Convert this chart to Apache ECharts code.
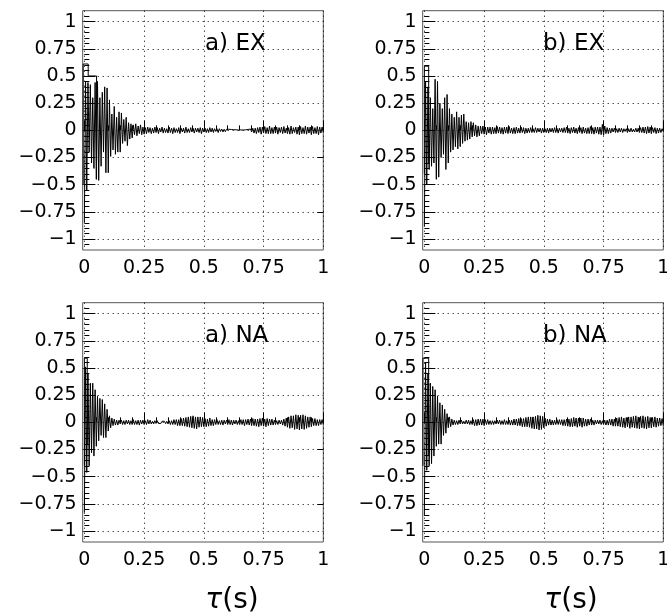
<!DOCTYPE html>
<html>
<head>
<meta charset="utf-8">
<script src="https://cdn.jsdelivr.net/npm/echarts@6/dist/echarts.min.js"></script>
<style>html,body{margin:0;padding:0;background:#fff;}#c{width:667px;height:613px;}</style>
</head>
<body>
<div id="c"></div>
<script>
// ---------------- data ----------------
const panelNames = ['a) EX', 'b) EX', 'a) NA', 'b) NA'];
const xTickValues = [0, 0.25, 0.5, 0.75, 1];
const yTickValues = [-1, -0.75, -0.5, -0.25, 0, 0.25, 0.5, 0.75, 1];
const xAxisTitle = 'τ(s)';
const tauStart = 0;      // s, first sample
const tauStep = 0.005;   // s, sample spacing

// correlation values, one sample every tauStep from tau = 0 to 1 s
const aEX = [
 -0.85, 0.45, -0.55, 0.44, -0.2, 0.42, -0.3, 0.3, -0.35, 0.44, -0.45, 0.45, -0.46, 0.3, -0.33, 0.35, -0.2, 0.4, -0.39, 0.39,
 -0.39, 0.28, -0.24, 0.15, -0.18, 0.22, -0.22, 0.12, -0.2, 0.17, -0.2, 0.16, -0.12, 0.1, -0.1, 0.12, -0.14, 0.07, -0.08, 0.06,
 -0.07, 0.05, -0.04, 0.06, -0.05, 0.04, -0.03, 0.05, -0.04, 0.03, -0.035, 0.025, -0.03, 0.03, -0.02, 0.025, -0.03, 0.02, -0.025, 0.03,
 -0.02, 0.025, -0.03, 0.02, -0.015, 0.03, -0.025, 0.02, -0.02, 0.015, -0.025, 0.03, -0.02, 0.02, -0.03, 0.025, -0.02, 0.015, -0.02, 0.025,
 -0.03, 0.02, -0.015, 0.02, -0.025, 0.03, -0.02, 0.015, -0.02, 0.025, -0.015, 0.02, -0.025, 0.02, -0.015, 0.02, -0.02, 0.025, -0.03, 0.02,
 -0.015, 0.02, -0.02, 0.015, -0.02, 0.025, -0.015, 0.02, -0.02, 0.015, -0.01, 0.015, -0.02, 0.015, -0.01, 0.012, -0.015, 0.01, -0.012, 0.01,
 -0.008, 0.01, -0.006, 0.008, -0.005, 0.006, -0.004, 0.005, -0.004, 0.003, -0.003, 0.004, -0.003, 0.003, -0.004, 0.005, -0.006, 0.008, -0.01, 0.012,
 -0.015, 0.02, -0.025, 0.02, -0.03, 0.025, -0.02, 0.03, -0.035, 0.03, -0.025, 0.035, -0.03, 0.025, -0.03, 0.04, -0.03, 0.025, -0.03, 0.03,
 -0.025, 0.03, -0.035, 0.025, -0.02, 0.03, -0.03, 0.035, -0.025, 0.02, -0.03, 0.025, -0.035, 0.04, -0.03, 0.025, -0.02, 0.03, -0.035, 0.03,
 -0.04, 0.035, -0.03, 0.025, -0.03, 0.04, -0.035, 0.03, -0.025, 0.03, -0.04, 0.035, -0.03, 0.025, -0.03, 0.035, -0.04, 0.03, -0.025, 0.03,
 -0.02
];
const bEX = [
 -0.88, 0.45, -0.5, 0.4, -0.36, 0.3, -0.33, 0.2, -0.3, 0.47, -0.45, 0.45, -0.43, 0.25, -0.25, 0.2, -0.22, 0.3, -0.36, 0.33,
 -0.3, 0.2, -0.2, 0.15, -0.18, 0.12, -0.15, 0.17, -0.17, 0.12, -0.15, 0.14, -0.12, 0.15, -0.1, 0.08, -0.09, 0.07, -0.08, 0.08,
 -0.06, 0.07, -0.05, 0.05, -0.06, 0.04, -0.05, 0.04, -0.03, 0.04, -0.035, 0.03, -0.04, 0.03, -0.025, 0.03, -0.035, 0.03, -0.03, 0.025,
 -0.03, 0.035, -0.025, 0.03, -0.03, 0.025, -0.035, 0.03, -0.025, 0.03, -0.03, 0.035, -0.025, 0.02, -0.03, 0.025, -0.03, 0.03, -0.025, 0.02,
 -0.025, 0.03, -0.02, 0.025, -0.03, 0.02, -0.025, 0.02, -0.02, 0.025, -0.02, 0.015, -0.02, 0.025, -0.02, 0.02, -0.015, 0.02, -0.025, 0.02,
 -0.02, 0.015, -0.02, 0.02, -0.025, 0.02, -0.015, 0.02, -0.02, 0.025, -0.02, 0.02, -0.025, 0.02, -0.015, 0.02, -0.02, 0.025, -0.02, 0.03,
 -0.025, 0.02, -0.03, 0.025, -0.02, 0.03, -0.025, 0.02, -0.03, 0.025, -0.02, 0.025, -0.03, 0.03, -0.025, 0.02, -0.03, 0.025, -0.03, 0.035,
 -0.03, 0.025, -0.035, 0.03, -0.025, 0.03, -0.035, 0.03, -0.04, 0.055, -0.045, 0.04, -0.03, 0.025, -0.03, 0.02, -0.025, 0.02, -0.015, 0.02,
 -0.02, 0.015, -0.02, 0.02, -0.015, 0.02, -0.02, 0.015, -0.01, 0.015, -0.02, 0.015, -0.015, 0.02, -0.015, 0.01, -0.015, 0.02, -0.015, 0.02,
 -0.02, 0.025, -0.02, 0.03, -0.025, 0.03, -0.03, 0.035, -0.025, 0.03, -0.03, 0.025, -0.02, 0.025, -0.03, 0.02, -0.025, 0.02, -0.02, 0.015,
 -0.01
];
const aNA = [
 -0.83, 0.51, -0.46, 0.45, -0.4, 0.36, -0.28, 0.36, -0.31, 0.3, -0.22, 0.24, -0.17, 0.22, -0.12, 0.21, -0.14, 0.17, -0.14, 0.12,
 -0.08, 0.06, -0.05, 0.04, -0.03, 0.03, -0.025, 0.02, -0.025, 0.02, -0.015, 0.02, -0.02, 0.015, -0.02, 0.02, -0.015, 0.02, -0.02, 0.015,
 -0.02, 0.025, -0.02, 0.015, -0.02, 0.02, -0.025, 0.02, -0.015, 0.02, -0.02, 0.015, -0.02, 0.025, -0.015, 0.02, -0.015, 0.01, -0.015, 0.015,
 -0.01, 0.015, -0.01, 0.008, -0.01, 0.01, -0.008, 0.01, -0.012, 0.01, -0.015, 0.015, -0.02, 0.015, -0.02, 0.025, -0.02, 0.025, -0.03, 0.025,
 -0.03, 0.035, -0.03, 0.04, -0.035, 0.045, -0.04, 0.05, -0.045, 0.055, -0.05, 0.06, -0.055, 0.05, -0.06, 0.05, -0.045, 0.05, -0.04, 0.045,
 -0.04, 0.035, -0.04, 0.03, -0.035, 0.04, -0.03, 0.025, -0.03, 0.025, -0.02, 0.025, -0.02, 0.015, -0.02, 0.02, -0.025, 0.02, -0.015, 0.02,
 -0.02, 0.025, -0.02, 0.02, -0.025, 0.02, -0.015, 0.02, -0.02, 0.015, -0.02, 0.025, -0.02, 0.025, -0.03, 0.025, -0.02, 0.03, -0.025, 0.03,
 -0.03, 0.035, -0.03, 0.03, -0.035, 0.03, -0.04, 0.035, -0.03, 0.04, -0.035, 0.03, -0.04, 0.035, -0.03, 0.03, -0.025, 0.03, -0.025, 0.02,
 -0.02, 0.015, -0.02, 0.02, -0.015, 0.02, -0.025, 0.03, -0.035, 0.04, -0.045, 0.05, -0.055, 0.06, -0.05, 0.06, -0.065, 0.07, -0.06, 0.065,
 -0.07, 0.065, -0.06, 0.07, -0.065, 0.06, -0.055, 0.05, -0.045, 0.05, -0.04, 0.035, -0.03, 0.035, -0.03, 0.025, -0.03, 0.025, -0.02, 0.025,
 -0.02
];
const bNA = [
 -0.86, 0.55, -0.44, 0.45, -0.4, 0.36, -0.38, 0.33, -0.31, 0.3, -0.22, 0.24, -0.2, 0.18, -0.2, 0.16, -0.12, 0.12, -0.1, 0.08,
 -0.05, 0.05, -0.04, 0.03, -0.025, 0.02, -0.02, 0.015, -0.02, 0.02, -0.015, 0.02, -0.015, 0.01, -0.015, 0.02, -0.015, 0.02, -0.02, 0.015,
 -0.02, 0.025, -0.03, 0.025, -0.03, 0.03, -0.025, 0.03, -0.025, 0.03, -0.03, 0.025, -0.02, 0.025, -0.02, 0.015, -0.02, 0.015, -0.02, 0.015,
 -0.015, 0.02, -0.015, 0.02, -0.02, 0.015, -0.02, 0.025, -0.02, 0.015, -0.02, 0.02, -0.025, 0.02, -0.025, 0.03, -0.025, 0.03, -0.03, 0.035,
 -0.03, 0.035, -0.04, 0.035, -0.04, 0.045, -0.04, 0.05, -0.045, 0.05, -0.055, 0.05, -0.06, 0.055, -0.06, 0.065, -0.07, 0.06, -0.065, 0.055,
 -0.05, 0.04, -0.035, 0.03, -0.025, 0.03, -0.025, 0.02, -0.025, 0.02, -0.02, 0.025, -0.02, 0.025, -0.02, 0.025, -0.03, 0.025, -0.03, 0.03,
 -0.035, 0.03, -0.04, 0.035, -0.04, 0.045, -0.035, 0.04, -0.045, 0.04, -0.035, 0.04, -0.045, 0.04, -0.035, 0.03, -0.035, 0.03, -0.025, 0.03,
 -0.025, 0.02, -0.025, 0.02, -0.015, 0.02, -0.015, 0.02, -0.02, 0.015, -0.02, 0.02, -0.025, 0.02, -0.025, 0.03, -0.025, 0.03, -0.035, 0.03,
 -0.035, 0.04, -0.035, 0.045, -0.04, 0.05, -0.045, 0.04, -0.05, 0.045, -0.04, 0.05, -0.055, 0.05, -0.045, 0.055, -0.05, 0.06, -0.055, 0.05,
 -0.06, 0.055, -0.05, 0.06, -0.055, 0.05, -0.06, 0.055, -0.05, 0.045, -0.05, 0.045, -0.04, 0.05, -0.045, 0.04, -0.035, 0.04, -0.03, 0.035,
 -0.03
];
// first (stepped) peak at tau ~ 0, as [tau, value] pairs
const aEXpeak = [[-0.005, -0.5], [-0.005, 0.61], [0.016, 0.61], [0.016, 0.5], [0.051, 0.5], [0.051, -0.45]];
const bEXpeak = [[0.0, -0.4], [0.0, 0.59], [0.018, 0.59], [0.018, -0.3]];
const aNApeak = [[0.0, -0.4], [0.0, 0.59], [0.012, 0.59], [0.012, -0.2]];
const bNApeak = [[-0.006, -0.4], [-0.006, 0.59], [0.018, 0.59], [0.018, -0.3]];
// ticks on the right edge of the left-hand panels
const rightTickValues = [[-0.75, -0.25], [], [-0.75, -0.25], []];

const series_values = [aEX, bEX, aNA, bNA];
const peak_values = [aEXpeak, bEXpeak, aNApeak, bNApeak];

// ---------------- layout / style ----------------
const FONT = 'DejaVu Sans';
const layout = [
  {left: 82.7, top: 10.7, width: 240.6, height: 239.3, label: [205, 33], tau: null},
  {left: 422.7, top: 10.7, width: 240.6, height: 239.3, label: [543, 33], tau: null},
  {left: 82.7, top: 302.7, width: 240.6, height: 239.3, label: [205, 325], tau: [232, 587]},
  {left: 422.7, top: 302.7, width: 240.6, height: 239.3, label: [543, 325], tau: [571, 587]}
];
const xRange = [-0.007, 1];
const yRange = [-1.1, 1.1];

const xMinor = [], yMinor = [];
for (let k = 0; k <= 20; k++) xMinor.push(Math.round(k * 5) / 100);
for (let k = -21; k <= 21; k++) yMinor.push(Math.round(k * 5) / 100);

function fmt(v) {
  const s = String(Math.round(Math.abs(v) * 100) / 100);
  return v < -1e-9 ? '\u2212' + s : s;
}

const grid = [], xAxis = [], yAxis = [], series = [], title = [];
const dotted = {color: '#000', width: 1, type: [1, 4]};
layout.forEach((L, i) => {
  const rect = {left: L.left, top: L.top, width: L.width, height: L.height};
  grid.push(Object.assign({show: true, borderColor: '#555', borderWidth: 1, backgroundColor: 'transparent', containLabel: false, outerBoundsMode: 'none'}, rect));
  grid.push(Object.assign({show: false, containLabel: false, outerBoundsMode: 'none'}, rect));
  const gMain = 2 * i, gMinor = 2 * i + 1;
  xAxis.push({
    gridIndex: gMain, type: 'value', min: xRange[0], max: xRange[1], position: 'bottom',
    axisLine: {show: false},
    axisTick: {show: true, inside: true, length: 10, customValues: xTickValues, lineStyle: {color: '#000', width: 1}},
    axisLabel: {show: true, customValues: xTickValues, formatter: fmt, margin: 9, color: '#000', fontFamily: FONT, fontSize: 19},
    splitLine: {show: true, lineStyle: dotted}
  });
  xAxis.push({
    gridIndex: gMinor, type: 'value', min: xRange[0], max: xRange[1], position: 'bottom',
    axisLine: {show: false},
    axisTick: {show: true, inside: true, length: 5, customValues: xMinor, lineStyle: {color: '#000', width: 1}},
    axisLabel: {show: false}, splitLine: {show: false}
  });
  yAxis.push({
    gridIndex: gMain, type: 'value', min: yRange[0], max: yRange[1], position: 'left',
    axisLine: {show: false},
    axisTick: {show: true, inside: true, length: 11, customValues: yTickValues, lineStyle: {color: '#000', width: 1}},
    axisLabel: {show: true, customValues: yTickValues, formatter: fmt, margin: 6, color: '#000', fontFamily: FONT, fontSize: 19},
    splitLine: {show: true, lineStyle: dotted}
  });
  yAxis.push({
    gridIndex: gMinor, type: 'value', min: yRange[0], max: yRange[1], position: 'left',
    axisLine: {show: false},
    axisTick: {show: true, inside: true, length: 5, customValues: yMinor, lineStyle: {color: '#000', width: 1}},
    axisLabel: {show: false}, splitLine: {show: false}
  });
  const rt = rightTickValues[i];
  yAxis.push({
    gridIndex: gMinor, type: 'value', min: yRange[0], max: yRange[1], position: 'right',
    axisLine: {show: false},
    axisTick: {show: rt.length > 0, inside: true, length: 6, customValues: rt.length ? rt : [0], lineStyle: {color: '#000', width: 1}},
    axisLabel: {show: false}, splitLine: {show: false}
  });
});

layout.forEach((L, i) => {
  const vals = series_values[i];
  const data = vals.map((v, k) => [Math.round((tauStart + k * tauStep) * 1e6) / 1e6, v]);
  const common = {
    type: 'line', xAxisIndex: 2 * i, yAxisIndex: 3 * i,
    showSymbol: false, symbol: 'none', silent: true, animation: false, clip: true,
    label: {show: false}, endLabel: {show: false},
    lineStyle: {color: '#000', width: 1}, z: 3
  };
  series.push(Object.assign({data: data}, common));
  series.push(Object.assign({data: peak_values[i]}, common));
  title.push({
    text: panelNames[i], left: L.label[0], top: L.label[1], padding: 0,
    textStyle: {fontFamily: FONT, fontSize: 23, fontWeight: 'normal', color: '#000'}
  });
  if (L.tau) {
    title.push({
      text: '{i|τ}(s)', left: L.tau[0], top: L.tau[1], padding: 0, textAlign: 'center',
      textStyle: {fontFamily: FONT, fontSize: 28, fontWeight: 'normal', color: '#000',
        rich: {i: {fontFamily: FONT, fontSize: 28, fontStyle: 'italic', color: '#000'}}}
    });
  }
});

const chart = echarts.init(document.getElementById('c'), null, {renderer: 'canvas', width: 667, height: 613});
chart.setOption({animation: false, backgroundColor: '#fff', grid, xAxis, yAxis, series, title});
</script>
</body>
</html>
